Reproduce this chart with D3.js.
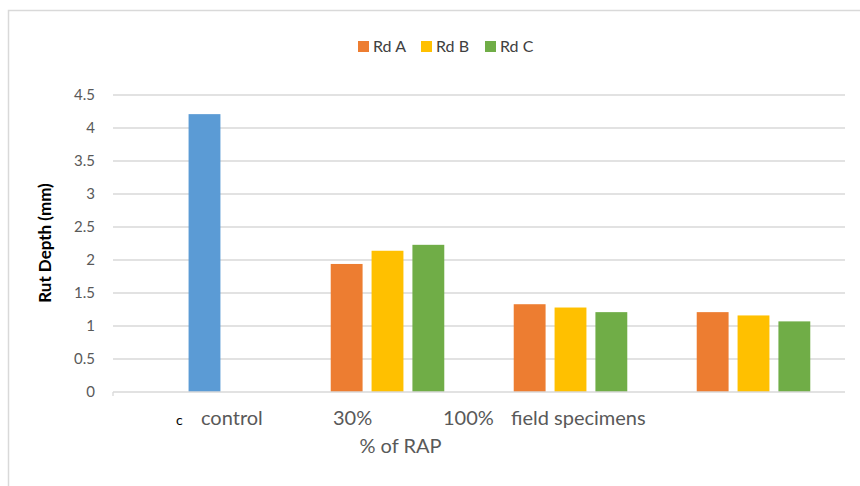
<!DOCTYPE html>
<html>
<head>
<meta charset="utf-8">
<script src="https://cdn.jsdelivr.net/npm/d3@7"></script>
<style>
  body { margin: 0; background: #fff; }
  text { font-family: Lato, "Liberation Sans", sans-serif; }
</style>
</head>
<body>
<script>
var width = 860;
var height = 486;

// data
var categories = ["control", "30%", "100%", "field specimens"];
var seriesNames = ["Rd A", "Rd B", "Rd C"];
var seriesColors = ["#ED7D31", "#FFC000", "#70AD47"];
var rdA = [null, 1.94, 1.33, 1.21];
var rdB = [null, 2.14, 1.28, 1.16];
var rdC = [null, 2.23, 1.21, 1.07];
var control = [4.21, null, null, null];
var controlColor = "#5B9BD5";
var yTicks = [0, 0.5, 1, 1.5, 2, 2.5, 3, 3.5, 4, 4.5];
// the axis labels in the picture do not sit under their groups
var xLabels = ["control", "30%", "100%", "field specimens"];
var xLabelPos = [201, 333, 443, 511];

var svg = d3.select("body").append("svg")
	.attr("width", width)
	.attr("height", height);

// outer chart border (cut off at right / bottom)
svg.append("rect")
	.attr("x", 8.5).attr("y", 10.5)
	.attr("width", 900).attr("height", 500)
	.attr("fill", "none")
	.attr("stroke", "#d9d9d9")
	.attr("stroke-width", 1.5);

var plotLeft = 113, plotRight = 845, plotTop = 95, plotBottom = 392;

var x0 = d3.scaleBand().domain(categories).range([plotLeft, plotRight]);
var x1 = d3.scaleBand().domain(seriesNames).range([0, x0.bandwidth()])
	.paddingInner(0.22).paddingOuter(0.85);
var y = d3.scaleLinear().domain([0, 4.5]).range([plotBottom, plotTop]);

// gridlines
svg.append("g").selectAll("line")
	.data(yTicks.slice(1))
	.enter().append("line")
	.attr("x1", plotLeft).attr("x2", plotRight)
	.attr("y1", function(d) { return y(d); })
	.attr("y2", function(d) { return y(d); })
	.attr("stroke", "#d9d9d9")
	.attr("stroke-width", 1.3);

// y tick labels
svg.append("g").selectAll("text")
	.data(yTicks)
	.enter().append("text")
	.attr("x", 95)
	.attr("y", function(d) { return y(d); })
	.attr("dy", "0.35em")
	.attr("text-anchor", "end")
	.attr("font-size", 15)
	.attr("fill", "#595959")
	.text(function(d) { return d; });

// bars
var series = [rdA, rdB, rdC];
series.forEach(function(vals, si) {
	svg.append("g").selectAll("rect")
		.data(vals.map(function(v, i) { return {c: categories[i], v: v}; })
			.filter(function(d) { return d.v != null; }))
		.enter().append("rect")
		.attr("x", function(d) { return x0(d.c) + x1(seriesNames[si]); })
		.attr("width", x1.bandwidth())
		.attr("y", function(d) { return y(d.v); })
		.attr("height", function(d) { return plotBottom - y(d.v); })
		.attr("fill", seriesColors[si]);
});

// control bar sits in the middle slot
svg.append("g").selectAll("rect")
	.data(control.map(function(v, i) { return {c: categories[i], v: v}; })
		.filter(function(d) { return d.v != null; }))
	.enter().append("rect")
	.attr("x", function(d) { return x0(d.c) + x1("Rd B"); })
	.attr("width", x1.bandwidth())
	.attr("y", function(d) { return y(d.v); })
	.attr("height", function(d) { return plotBottom - y(d.v); })
	.attr("fill", controlColor);

// x axis line
svg.append("line")
	.attr("x1", plotLeft).attr("x2", plotRight)
	.attr("y1", plotBottom).attr("y2", plotBottom)
	.attr("stroke", "#d9d9d9")
	.attr("stroke-width", 1.3);
svg.append("line")
	.attr("x1", plotLeft).attr("x2", plotLeft)
	.attr("y1", plotBottom).attr("y2", plotBottom + 4)
	.attr("stroke", "#d9d9d9")
	.attr("stroke-width", 1.3);

// x labels
svg.append("text")
	.attr("x", 176).attr("y", 425)
	.attr("font-size", 14)
	.attr("fill", "#000")
	.text("c");

svg.append("g").selectAll("text")
	.data(xLabels)
	.enter().append("text")
	.attr("x", function(d, i) { return xLabelPos[i]; })
	.attr("y", 425)
	.attr("font-size", 20)
	.attr("fill", "#595959")
	.text(function(d) { return d; });

svg.append("text")
	.attr("x", 400.5).attr("y", 453)
	.attr("text-anchor", "middle")
	.attr("font-size", 20)
	.attr("fill", "#595959")
	.text("% of RAP");

// y title
svg.append("text")
	.attr("transform", "translate(51,243) rotate(-90)")
	.attr("text-anchor", "middle")
	.attr("font-size", 17)
	.attr("font-weight", "bold")
	.attr("fill", "#000")
	.text("Rut Depth (mm)");

// legend
var legendX = [358, 421, 485];
var legend = svg.append("g").selectAll("g")
	.data(seriesNames)
	.enter().append("g")
	.attr("transform", function(d, i) { return "translate(" + legendX[i] + ",41)"; });
legend.append("rect")
	.attr("width", 11).attr("height", 11)
	.attr("fill", function(d, i) { return seriesColors[i]; });
legend.append("text")
	.attr("x", 15).attr("y", 5.5)
	.attr("dy", "0.35em")
	.attr("font-size", 16)
	.attr("fill", "#404040")
	.text(function(d) { return d; });
</script>
</body>
</html>
